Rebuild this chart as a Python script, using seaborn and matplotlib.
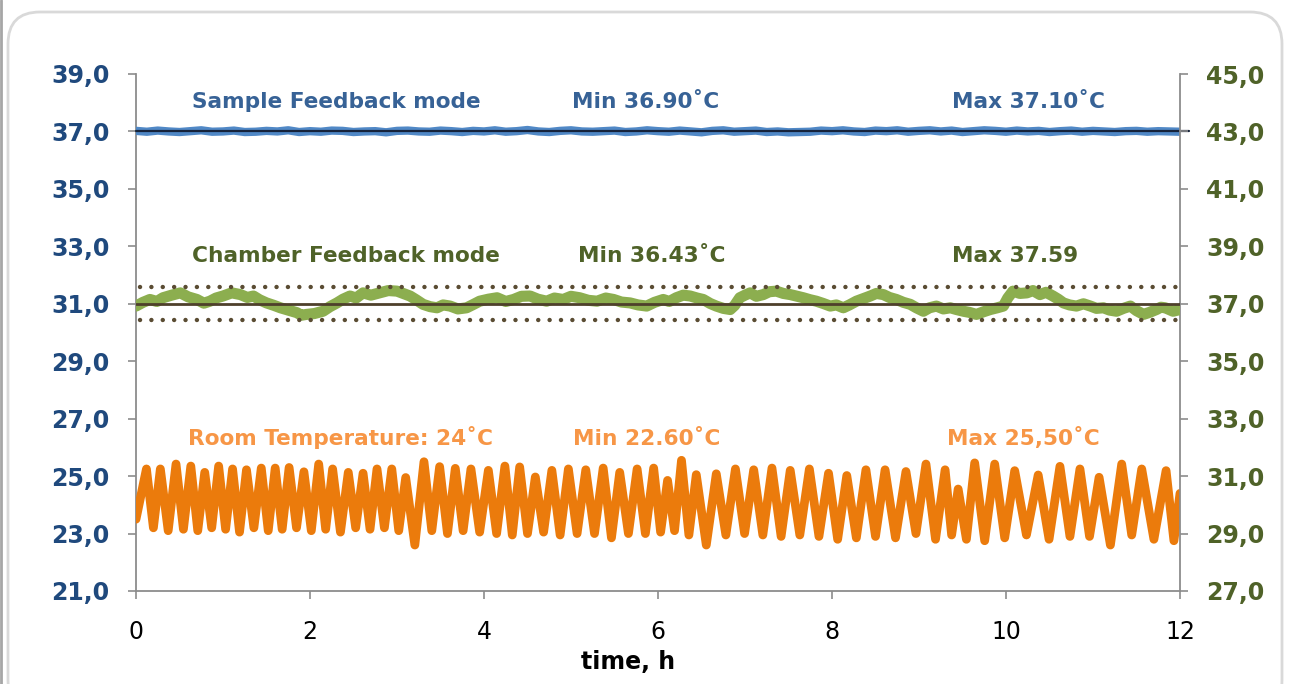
import matplotlib
matplotlib.use('Agg')
import matplotlib.pyplot as plt
import seaborn as sns
from matplotlib.patches import FancyBboxPatch

sns.set_style('white')
plt.rcParams['font.family'] = ['DejaVu Sans']

# --- data ---
# sample feedback temperature (left axis), evenly spaced over 12 h
sample_temp = [37.02, 36.99, 37.03, 37.00, 36.98, 37.01, 37.04, 36.99, 37.00, 37.03,
               36.98, 36.99, 37.02, 37.00, 37.04, 36.98, 37.01, 36.99, 37.03, 37.02,
               36.98, 37.00, 37.01, 36.97, 37.02, 37.03, 37.00, 36.99, 37.03, 37.01,
               36.98, 37.02, 37.00, 37.04, 36.99, 37.01, 37.05, 37.00, 36.98, 37.02,
               37.04, 37.00, 36.99, 37.01, 37.03, 36.98, 37.00, 37.04, 37.01, 36.99,
               37.03, 37.00, 36.97, 37.02, 37.04, 36.99, 37.01, 37.03, 36.98, 37.00,
               36.97, 36.98, 36.99, 37.03, 37.01, 37.04, 37.00, 36.98, 37.03, 37.01,
               37.04, 36.99, 37.02, 37.04, 37.00, 37.03, 36.98, 37.01, 37.04, 37.02,
               36.99, 37.03, 37.00, 37.02, 36.98, 37.01, 37.03, 36.99, 37.02, 37.00,
               36.98, 37.01, 37.02, 36.99, 37.01, 37.00, 36.99]

# chamber feedback temperature (right axis)
chamber_time = [0.0, 0.08, 0.16, 0.24, 0.31, 0.41, 0.51, 0.60, 0.70, 0.78,
                0.85, 0.92, 1.00, 1.10, 1.20, 1.28, 1.35, 1.42, 1.50, 1.58,
                1.66, 1.75, 1.85, 1.90, 1.96, 2.05, 2.15, 2.23, 2.31, 2.38,
                2.46, 2.53, 2.61, 2.70, 2.80, 2.90, 3.00, 3.07, 3.15, 3.22,
                3.30, 3.38, 3.46, 3.53, 3.61, 3.70, 3.80, 3.88, 3.95, 4.05,
                4.15, 4.25, 4.34, 4.43, 4.53, 4.62, 4.72, 4.81, 4.91, 5.00,
                5.10, 5.20, 5.30, 5.40, 5.49, 5.58, 5.68, 5.77, 5.87, 5.96,
                6.06, 6.13, 6.21, 6.29, 6.37, 6.45, 6.52, 6.60, 6.67, 6.75,
                6.83, 6.88, 6.94, 7.00, 7.06, 7.13, 7.21, 7.28, 7.36, 7.44,
                7.52, 7.60, 7.67, 7.75, 7.82, 7.90, 7.98, 8.05, 8.13, 8.20,
                8.28, 8.36, 8.44, 8.51, 8.59, 8.66, 8.74, 8.82, 8.90, 8.97,
                9.05, 9.12, 9.20, 9.28, 9.36, 9.43, 9.51, 9.58, 9.66, 9.74,
                9.82, 9.90, 9.97, 10.02, 10.08, 10.16, 10.24, 10.31, 10.39, 10.46,
                10.54, 10.60, 10.66, 10.73, 10.81, 10.89, 10.97, 11.04, 11.12, 11.19,
                11.27, 11.35, 11.43, 11.50, 11.58, 11.65, 11.73, 11.78, 11.83, 11.92,
                12.0]
chamber_temp = [36.92, 37.05, 37.15, 37.08, 37.21, 37.30, 37.38, 37.24, 37.15, 37.02,
                37.09, 37.20, 37.27, 37.38, 37.32, 37.22, 37.27, 37.14, 37.03, 36.95,
                36.86, 36.78, 36.69, 36.60, 36.63, 36.66, 36.74, 36.90, 37.03, 37.16,
                37.27, 37.20, 37.38, 37.30, 37.38, 37.46, 37.44, 37.36, 37.27, 37.14,
                36.98, 36.90, 36.86, 36.96, 36.92, 36.82, 36.86, 36.98, 37.09, 37.16,
                37.21, 37.08, 37.15, 37.26, 37.27, 37.16, 37.09, 37.20, 37.15, 37.26,
                37.21, 37.12, 37.09, 37.20, 37.15, 37.06, 37.03, 36.96, 36.92, 37.05,
                37.15, 37.08, 37.21, 37.30, 37.27, 37.20, 37.15, 37.01, 36.92, 36.84,
                36.80, 36.94, 37.21, 37.30, 37.38, 37.26, 37.32, 37.42, 37.44, 37.36,
                37.32, 37.26, 37.21, 37.14, 37.09, 37.01, 36.92, 36.96, 36.86, 36.96,
                37.09, 37.18, 37.27, 37.36, 37.32, 37.22, 37.15, 37.05, 36.98, 36.86,
                36.74, 36.86, 36.92, 36.82, 36.86, 36.80, 36.74, 36.70, 36.63, 36.72,
                36.80, 36.86, 36.92, 37.20, 37.44, 37.36, 37.38, 37.46, 37.32, 37.40,
                37.27, 37.16, 37.03, 36.96, 36.92, 37.00, 36.92, 36.84, 36.86, 36.78,
                36.74, 36.84, 36.92, 36.76, 36.63, 36.70, 36.80, 36.88, 36.86, 36.74,
                36.80]
chamber_min = 36.43
chamber_max = 37.59

# room temperature (left axis): peaks of each heating cycle and troughs between them
room_peak_time = [0.12, 0.28, 0.46, 0.63, 0.79, 0.95, 1.11, 1.27, 1.44, 1.60,
                  1.76, 1.93, 2.10, 2.26, 2.44, 2.61, 2.77, 2.94, 3.10, 3.31,
                  3.49, 3.67, 3.85, 4.05, 4.24, 4.41, 4.59, 4.78, 4.97, 5.17,
                  5.37, 5.56, 5.76, 5.95, 6.11, 6.27, 6.44, 6.67, 6.89, 7.10,
                  7.31, 7.52, 7.74, 7.96, 8.17, 8.39, 8.61, 8.85, 9.08, 9.30,
                  9.45, 9.64, 9.87, 10.10, 10.37, 10.62, 10.85, 11.07, 11.33, 11.56,
                  11.84]
room_peak_temp = [25.25, 25.25, 25.42, 25.35, 25.13, 25.35, 25.25, 25.22, 25.28, 25.28,
                  25.30, 25.15, 25.42, 25.25, 25.13, 25.10, 25.25, 25.25, 24.95, 25.50,
                  25.33, 25.27, 25.25, 25.20, 25.35, 25.32, 24.97, 25.20, 25.25, 25.22,
                  25.28, 25.13, 25.25, 25.28, 24.85, 25.55, 25.05, 25.08, 25.25, 25.22,
                  25.28, 25.20, 25.25, 25.10, 25.02, 25.22, 25.22, 25.16, 25.42, 25.22,
                  24.55, 25.46, 25.42, 25.19, 25.04, 25.34, 25.25, 24.96, 25.42, 25.25,
                  25.19]
room_trough_temp = [23.20, 23.10, 23.15, 23.10, 23.20, 23.15, 23.05, 23.20, 23.10, 23.15,
                    23.20, 23.10, 23.15, 23.05, 23.20, 23.15, 23.20, 23.10, 22.60, 23.10,
                    23.00, 23.10, 23.05, 23.00, 22.95, 23.00, 23.05, 22.95, 23.00, 23.00,
                    22.85, 23.00, 23.00, 23.05, 23.10, 22.95, 22.60, 22.95, 23.00, 22.95,
                    22.90, 22.95, 22.90, 22.80, 22.85, 22.90, 22.85, 23.00, 22.80, 22.95,
                    22.80, 22.75, 22.85, 22.95, 22.80, 22.90, 22.90, 22.60, 22.95, 22.80]
room_start = (0.0, 23.50)
room_last_trough = (11.93, 22.75)
room_end = (12.0, 24.40)

left_ticks = [21, 23, 25, 27, 29, 31, 33, 35, 37, 39]
right_ticks = [27, 29, 31, 33, 35, 37, 39, 41, 43, 45]
x_ticks = [0, 2, 4, 6, 8, 10, 12]

# --- assemble series ---
n = len(sample_temp)
sample_time = [12.0 * i / (n - 1) for i in range(n)]

room_time = [room_start[0]]
room_temp = [room_start[1]]
for i, (pt, pv) in enumerate(zip(room_peak_time, room_peak_temp)):
    room_time.append(pt)
    room_temp.append(pv)
    if i < len(room_trough_temp):
        room_time.append((pt + room_peak_time[i + 1]) / 2)
        room_temp.append(room_trough_temp[i])
room_time += [room_last_trough[0], room_end[0]]
room_temp += [room_last_trough[1], room_end[1]]

W, H = 1289, 684
fig = plt.figure(figsize=(W / 100, H / 100), dpi=100)

# rounded frame behind everything
bg = fig.add_axes([0, 0, 1, 1], zorder=-5)
bg.set_xlim(0, W)
bg.set_ylim(H, 0)
bg.axis('off')
bg.add_patch(FancyBboxPatch((8, 12), 1274, 700, boxstyle='round,pad=0,rounding_size=32',
                            fc='white', ec='#D9D9D9', lw=2))
bg.plot([1, 1], [0, H], color='#A6A6A6', lw=2)

ax = fig.add_axes([136 / W, 1 - 591 / H, (1180 - 136) / W, (591 - 74) / H])
ax.patch.set_visible(False)
ax2 = ax.twinx()
ax2.patch.set_visible(False)

grey = '#8C8C8C'

# sample feedback
sns.lineplot(x=sample_time, y=sample_temp, ax=ax, color='#5088C6', linewidth=6,
             estimator=None, zorder=3)
ax.plot([0, 12.1], [37, 37], color='#16233B', lw=1.6, zorder=4, clip_on=False)

# room temperature
sns.lineplot(x=room_time, y=room_temp, ax=ax, color='#EB7B0C', linewidth=6.3,
             estimator=None, zorder=3)

# chamber feedback (right axis)
sns.lineplot(x=chamber_time, y=chamber_temp, ax=ax2, color='#8CAE4F', linewidth=8,
             estimator=None, zorder=3)
ax2.plot([0, 12], [37, 37], color='#4E402B', lw=2, zorder=4)
for lvl in (chamber_min, chamber_max):
    ax2.plot([0.05, 11.95], [lvl, lvl], color='#5A4C33', lw=3.2,
             linestyle=(0, (0.01, 2.55)), dash_capstyle='round', zorder=4)

ax.set_xlim(0, 12)
ax.set_ylim(21, 39)
ax2.set_ylim(27, 45)
ax.set_xticks(x_ticks)
ax.set_xticklabels([str(v) for v in x_ticks], fontsize=17, color='black')
ax.set_yticks(left_ticks)
ax.set_yticklabels([f'{v:.1f}'.replace('.', ',') for v in left_ticks],
                   fontsize=17, fontweight='bold', color='#1F497D')
ax2.set_yticks(right_ticks)
ax2.set_yticklabels([f'{v:.1f}'.replace('.', ',') for v in right_ticks],
                    fontsize=17, fontweight='bold', color='#4F6228')
ax.set_ylabel('')
ax2.set_ylabel('')
ax.set_xlabel('time, h', fontsize=17, fontweight='bold', color='black')
ax.xaxis.set_label_coords((628 - 136) / (1180 - 136), -0.115)

for a in (ax, ax2):
    a.spines['top'].set_visible(False)
ax.spines['right'].set_visible(False)
ax2.spines['left'].set_visible(False)
ax2.spines['bottom'].set_visible(False)
for a, s in ((ax, 'left'), (ax, 'bottom'), (ax2, 'right')):
    a.spines[s].set_color(grey)
    a.spines[s].set_linewidth(1.3)
ax.tick_params(axis='y', direction='out', length=6, width=1.2, color=grey, pad=13, left=True)
ax.tick_params(axis='x', direction='out', length=6, width=1.2, color=grey, pad=15, bottom=True)
ax2.tick_params(axis='y', direction='out', length=6, width=1.2, color=grey, pad=13, right=True)
ax.grid(False)
ax2.grid(False)

# annotations
def label(px, py, text, color):
    fig.text(px / W, 1 - py / H, text, color=color, fontsize=15.6,
             fontweight='bold', ha='left', va='baseline')

blue_t, green_t, orange_t = '#376296', '#4F6228', '#F79646'
label(192, 108, 'Sample Feedback mode', blue_t)
label(572, 108, 'Min 36.90˚C', blue_t)
label(952, 108, 'Max 37.10˚C', blue_t)
label(192, 262, 'Chamber Feedback mode', green_t)
label(578, 262, 'Min 36.43˚C', green_t)
label(952, 262, 'Max 37.59', green_t)
label(188, 445, 'Room Temperature: 24˚C', orange_t)
label(573, 445, 'Min 22.60˚C', orange_t)
label(947, 445, 'Max 25,50˚C', orange_t)

fig.savefig('out.png', dpi=100)
